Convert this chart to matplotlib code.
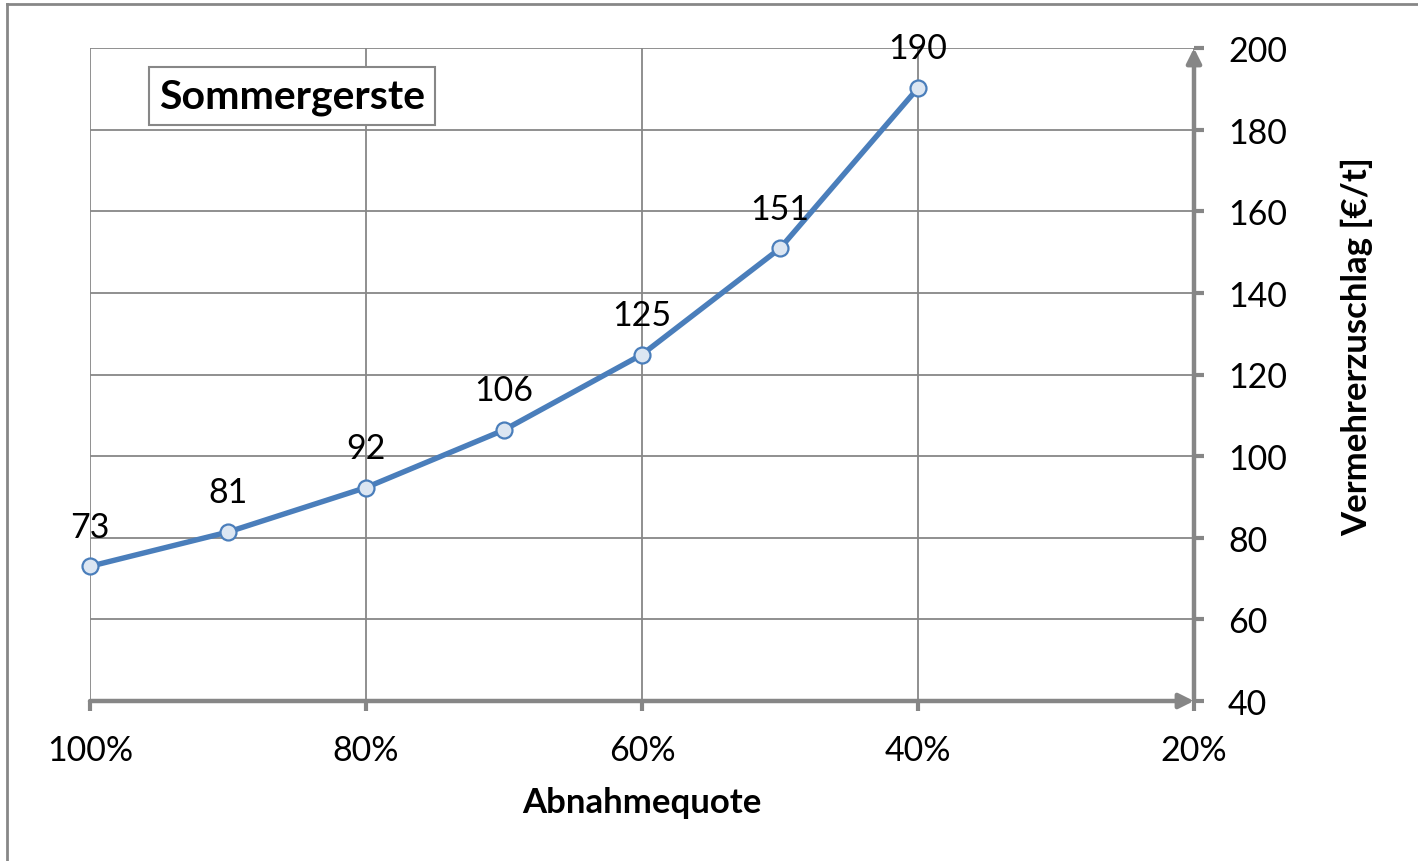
import matplotlib
matplotlib.use("Agg")
import matplotlib.pyplot as plt
from matplotlib.lines import Line2D

plt.rcParams['font.family'] = ['Lato', 'DejaVu Sans']

quote = [100, 90, 80, 70, 60, 50, 40]
zuschlag = [73, 81.4, 92.3, 106.4, 124.9, 150.9, 190.2]
labels = ["73", "81", "92", "106", "125", "151", "190"]
x_ticks = [100, 80, 60, 40, 20]
x_ticklabels = ["100%", "80%", "60%", "40%", "20%"]
y_ticks = [40, 60, 80, 100, 120, 140, 160, 180, 200]

W, H = 1418, 862
fig = plt.figure(figsize=(W / 100, H / 100), dpi=100)
ax = fig.add_axes([90 / W, 1 - 702 / H, (1194 - 90) / W, (702 - 49) / H])

grid_c = "#878787"
axis_c = "#868686"

ax.set_xlim(100, 20)
ax.set_ylim(40, 200)
ax.set_xticks(x_ticks)
ax.set_xticklabels(x_ticklabels)
ax.set_yticks(y_ticks)
ax.yaxis.tick_right()
ax.yaxis.set_label_position("right")
ax.grid(True, color=grid_c, linewidth=1.3)
ax.set_axisbelow(True)
for s in ax.spines.values():
    s.set_visible(False)
ax.tick_params(axis='both', length=7.5, width=3, color=axis_c, labelsize=24.5, labelcolor='black')
ax.tick_params(axis='x', pad=16)
ax.tick_params(axis='y', pad=17)

# axis lines with arrows
ax.annotate("", xy=(1.0, 0), xytext=(0, 0), xycoords='axes fraction',
            arrowprops=dict(arrowstyle='-|>', color=axis_c, lw=3.2, mutation_scale=22,
                            shrinkA=0, shrinkB=0), zorder=3)
ax.annotate("", xy=(1.0, 1.0), xytext=(1.0, 0), xycoords='axes fraction',
            arrowprops=dict(arrowstyle='-|>', color=axis_c, lw=3.2, mutation_scale=22,
                            shrinkA=0, shrinkB=0), zorder=3)

ax.plot(quote, zuschlag, color="#4A7EBB", linewidth=3.9, marker='o', markersize=11.5,
        markerfacecolor="#DCE6F2", markeredgecolor="#4A7EBB", markeredgewidth=1.6,
        zorder=4, clip_on=False)
for xv, yv, lb in zip(quote, zuschlag, labels):
    ax.annotate(lb, (xv, yv), xytext=(0, 28.5), textcoords='offset points',
                ha='center', va='center', fontsize=24.5, color='black', zorder=5)

ax.set_xlabel("Abnahmequote", fontsize=25, fontweight='bold')
ax.xaxis.set_label_coords(0.5, (702 - 803) / 653)
ax.xaxis.label.set_va('center')
ax.set_ylabel("Vermehrerzuschlag [€/t]", fontsize=25, fontweight='bold')
ax.yaxis.set_label_coords((1357 - 90) / 1104, (702 - 347) / 653)
ax.yaxis.label.set_va('center')
ax.yaxis.label.set_ha('center')

ax.text(292 / W, 1 - 97 / H, "Sommergerste", transform=fig.transFigure, fontsize=29.5,
        fontweight='bold', ha='center', va='center',
        bbox=dict(boxstyle='square,pad=0.25', facecolor='white', edgecolor=grid_c, linewidth=1.5),
        zorder=6)

# chart area border (left and top edges visible)
fig.add_artist(Line2D([7 / W, 7 / W], [0, 1 - 5 / H], transform=fig.transFigure,
                      color=grid_c, linewidth=2))
fig.add_artist(Line2D([7 / W, 1], [1 - 5 / H, 1 - 5 / H], transform=fig.transFigure,
                      color=grid_c, linewidth=2))

fig.savefig("out.png", dpi=100, facecolor='white')
